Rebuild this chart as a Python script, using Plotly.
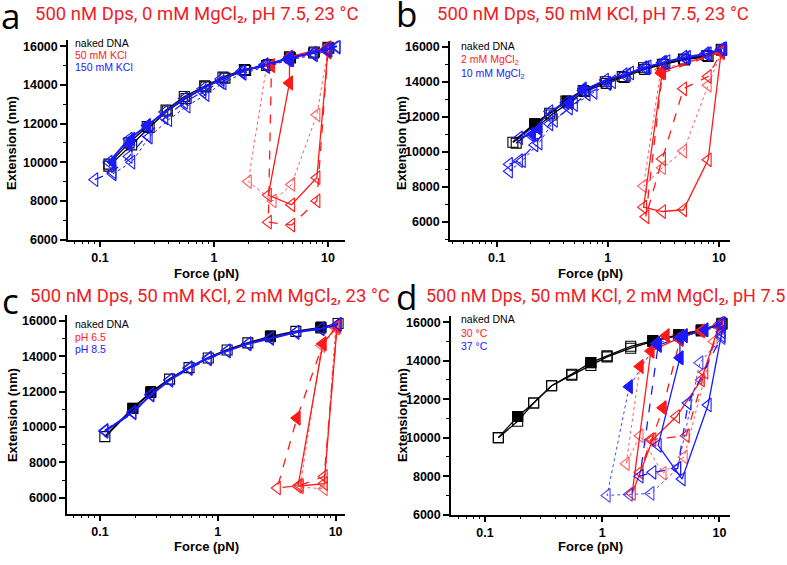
import plotly.graph_objects as go

W, H = 787, 565

# ---------------- DATA ----------------
# Panel a: 500 nM Dps, 0 mM MgCl2
A_K1_F = [0.12, 0.18, 0.26, 0.38, 0.55, 0.83, 1.2, 1.85, 2.9, 4.6, 7.5, 10.0]
A_K1_E = [9900, 11000, 11850, 12700, 13400, 13950, 14400, 14800, 15000, 15450, 15650, 15950]
A_K2_F = [0.12, 0.19, 0.27, 0.39, 0.57, 0.85, 1.25, 1.9, 3.0, 4.7, 7.6, 10.2]
A_K2_E = [9800, 10900, 11800, 12650, 13300, 13900, 14350, 14750, 15050, 15400, 15700, 15900]
A_B1_F = [0.12, 0.18, 0.26, 0.37, 0.55, 0.8, 1.15, 1.75, 2.8, 4.5, 7.4, 9.8, 12.0]
A_B1_E = [10000, 11200, 11900, 12600, 13300, 13800, 14300, 14700, 15050, 15350, 15650, 15850, 16000]
A_B2_F = [0.09, 0.13, 0.18, 0.26, 0.37, 0.55, 0.8, 1.15, 1.75, 2.8, 4.5, 7.4, 9.8, 12.0]
A_B2_E = [9100, 9500, 10300, 11400, 12300, 13100, 13650, 14150, 14650, 15000, 15300, 15600, 15800, 15950]
A_B3_F = [0.13, 0.19, 0.27, 0.4, 0.58, 0.85, 1.2, 1.8, 2.9, 4.7, 7.6, 10.2]
A_B3_E = [9400, 10000, 11300, 12200, 12900, 13500, 14100, 14600, 14950, 15300, 15550, 15800]
A_BF_F = [0.13, 0.18, 0.19, 0.26, 4.6]
A_BF_E = [10000, 10900, 11200, 11900, 15400]
A_R1_F = [10.0, 4.6, 4.6, 3.0, 4.8, 8.0, 10.0]
A_R1_E = [15950, 15450, 14100, 8300, 7800, 9200, 15750]
A_R2_F = [10.0, 4.6, 3.2, 3.0, 4.8, 8.0, 10.0]
A_R2_E = [15900, 15300, 15000, 6900, 6750, 8000, 15700]
A_R3_F = [10.0, 2.9, 2.0, 3.3, 4.8, 8.0, 10.0]
A_R3_E = [15800, 15000, 9000, 8000, 8850, 12450, 15800]
A_RF_F = [3.2, 4.6, 4.6]
A_RF_E = [15000, 14100, 15400]

# Panel b: 500 nM Dps, 50 mM KCl
B_K1_F = [0.14, 0.22, 0.3, 0.42, 0.6, 0.95, 1.35, 2.1, 3.1, 4.8, 7.8, 10.5]
B_K1_E = [10550, 11600, 12200, 12900, 13500, 14000, 14300, 14800, 15000, 15300, 15500, 15850]
B_K2_F = [0.15, 0.23, 0.31, 0.44, 0.62, 0.97, 1.4, 2.15, 3.2, 4.9, 8.0, 10.6]
B_K2_E = [10500, 11400, 12100, 12800, 13450, 13900, 14250, 14700, 15000, 15250, 15450, 15800]
B_KF_F = [0.22, 0.43]
B_KF_E = [11600, 12900]
B_B1_F = [0.16, 0.2, 0.3, 0.42, 0.6, 0.95, 1.4, 2.1, 3.1, 4.8, 7.6, 10.5]
B_B1_E = [10800, 11000, 12300, 12800, 13500, 14100, 14400, 14800, 15100, 15400, 15600, 15850]
B_B2_F = [0.13, 0.16, 0.22, 0.3, 0.45, 0.65, 1.0, 1.5, 2.2, 3.2, 5.0, 7.8, 10.8]
B_B2_E = [9300, 9500, 10400, 11600, 12500, 13300, 13900, 14400, 14800, 15100, 15350, 15550, 15900]
B_B3_F = [0.13, 0.17, 0.24, 0.33, 0.5, 0.75, 1.1, 1.6, 2.3, 3.4, 5.2, 8.0, 11.0]
B_B3_E = [8900, 9500, 10500, 11800, 12700, 13400, 14000, 14500, 14850, 15150, 15400, 15600, 15900]
B_BF_F = [0.21, 0.24, 0.45, 0.6]
B_BF_E = [11000, 11300, 12800, 13600]
B_R1_F = [10.5, 3.1, 2.1, 3.1, 4.8, 8.0, 10.5]
B_R1_E = [15750, 14600, 6850, 6600, 6700, 9550, 15750]
B_R2_F = [10.5, 3.1, 2.2, 3.1, 4.8, 8.0, 10.5]
B_R2_E = [15700, 14500, 6300, 9600, 13600, 14300, 15700]
B_R3_F = [10.5, 3.0, 2.1, 3.1, 4.8, 8.0, 10.5]
B_R3_E = [15650, 14700, 8050, 9100, 10050, 13800, 15650]
B_RF_F = [3.1, 3.0]
B_RF_E = [14600, 14500]

# Panel c: 500 nM Dps, 50 mM KCl, 2 mM MgCl2
C_K1_F = [0.11, 0.19, 0.27, 0.39, 0.57, 0.83, 1.2, 1.8, 2.8, 4.6, 7.5, 10.5]
C_K1_E = [9450, 11050, 11950, 12700, 13350, 13900, 14350, 14750, 15100, 15400, 15600, 15850]
C_KF_F = [0.19, 0.27, 2.8, 7.5]
C_KF_E = [11050, 12000, 15150, 15650]
C_B1_F = [0.11, 0.19, 0.27, 0.39, 0.57, 0.83, 1.2, 1.8, 2.8, 4.6, 7.5, 10.5]
C_B1_E = [9750, 10850, 11800, 12650, 13350, 13900, 14300, 14700, 15000, 15350, 15550, 15800]
C_B2_F = [0.11, 0.19, 0.27, 0.39, 0.57, 0.83, 1.2, 1.8, 2.8, 4.6, 7.5, 10.5]
C_B2_E = [9800, 10800, 11850, 12650, 13300, 13850, 14300, 14700, 15050, 15350, 15550, 15800]
C_R1_F = [10.3, 7.8, 4.8, 8.0, 10.3]
C_R1_E = [15700, 14700, 6650, 6800, 15700]
C_R2_F = [10.3, 7.8, 4.7, 3.2, 5.0, 8.0, 10.3]
C_R2_E = [15750, 14700, 10500, 6550, 6700, 7200, 15750]
C_R3_F = [10.3, 7.6, 5.0, 8.0, 10.0]
C_R3_E = [15600, 14600, 6600, 6500, 15600]
C_RF_F = [4.7, 7.8]
C_RF_E = [10500, 14700]

# Panel d: 500 nM Dps, 50 mM KCl, 2 mM MgCl2, pH 7.5
D_K1_F = [0.13, 0.19, 0.26, 0.37, 0.55, 0.8, 1.1, 1.75, 2.7, 4.5, 7.0, 10.5]
D_K1_E = [10000, 10850, 11800, 12700, 13250, 13750, 14200, 14650, 15000, 15300, 15550, 15900]
D_K2_F = [0.13, 0.19, 0.26, 0.37, 0.55, 0.8, 1.1, 1.75, 2.7, 4.5, 7.0, 10.5]
D_K2_E = [10000, 11100, 11800, 12700, 13300, 13900, 14250, 14750, 15050, 15350, 15600, 15950]
D_KF_F = [0.19, 0.8, 2.7, 4.5, 7.0]
D_KF_E = [11100, 13900, 15050, 15350, 15600]
D_R1_F = [10.5, 7.0, 4.6, 2.6, 1.8, 2.7, 4.3, 7.0, 10.0]
D_R1_E = [16000, 15550, 15200, 14500, 7100, 9900, 11100, 13000, 15900]
D_R2_F = [10.5, 4.6, 3.3, 2.1, 2.6, 5.2, 7.5, 10.0]
D_R2_E = [15900, 15100, 11550, 8200, 9900, 10100, 13400, 15800]
D_R3_F = [10.5, 3.5, 2.1, 1.6, 2.1, 3.3, 5.0, 9.0, 10.2]
D_R3_E = [15800, 15300, 13700, 8650, 10100, 8150, 9000, 15000, 15700]
D_RF_F = [7.0, 4.6, 2.6, 3.3, 4.6, 2.1, 3.5]
D_RF_E = [15550, 15200, 14500, 11550, 15100, 13700, 15300]
D_B1_F = [10.5, 7.5, 4.6, 4.6, 3.0, 4.8, 8.0, 10.5]
D_B1_E = [16000, 15600, 15200, 14150, 9600, 7850, 11700, 15500]
D_B2_F = [10.5, 5.0, 3.0, 2.1, 2.7, 4.4, 5.4, 10.5]
D_B2_E = [15900, 15300, 14800, 8000, 8200, 8400, 11800, 15300]
D_B3_F = [10.5, 2.9, 1.7, 1.1, 1.7, 2.6, 4.4, 6.8, 10.5]
D_B3_E = [15800, 14900, 12650, 7000, 7050, 7100, 8400, 13900, 15200]
D_BF_F = [7.5, 4.6, 4.6, 3.0, 5.0, 1.7, 2.9]
D_BF_E = [15600, 15200, 14150, 14800, 15300, 12650, 14900]

TITLES = ["500 nM Dps, 0 mM MgCl₂, pH 7.5, 23 °C",
          "500 nM Dps, 50 mM KCl, pH 7.5, 23 °C",
          "500 nM Dps, 50 mM KCl, 2 mM MgCl₂, 23 °C",
          "500 nM Dps, 50 mM KCl, 2 mM MgCl₂, pH 7.5"]
LETTERS = ["a", "b", "c", "d"]
LEGENDS = [["naked DNA", "50 mM KCl", "150 mM KCl"],
           ["naked DNA", "2 mM MgCl<sub>2</sub>", "10 mM MgCl<sub>2</sub>"],
           ["naked DNA", "pH 6.5", "pH 8.5"],
           ["naked DNA", "30 °C", "37 °C"]]
X_TICKS = [0.1, 1, 10]
Y_TICKS = [6000, 8000, 10000, 12000, 14000, 16000]

# ---------------- STYLE ----------------
BLACK = "#000000"
RED = "#ff1a1a"
BLUE = "#1a1aff"
TITLE_RED = "#ee1c25"

fig = go.Figure()


def curve(ax, F, E, color, dash="solid", sym="triangle-left-open", width=1.3, size=12, opacity=1.0):
    fig.add_trace(go.Scatter(
        x=F, y=E, mode="lines+markers", xaxis="x" + ax, yaxis="y" + ax,
        line=dict(color=color, width=width, dash=dash), opacity=opacity,
        marker=dict(symbol=sym, size=size, color=color, line=dict(width=1.1, color=color)),
        showlegend=False, hoverinfo="skip"))


def filled(ax, F, E, color, sym="triangle-left", size=12):
    fig.add_trace(go.Scatter(
        x=F, y=E, mode="markers", xaxis="x" + ax, yaxis="y" + ax,
        marker=dict(symbol=sym, size=size, color=color, line=dict(width=1, color=color)),
        showlegend=False, hoverinfo="skip"))


SQ = "square-open"
# panel a
curve("", A_K1_F, A_K1_E, BLACK, sym=SQ, size=10)
curve("", A_K2_F, A_K2_E, BLACK, sym=SQ, size=10)
curve("", A_R1_F, A_R1_E, RED)
curve("", A_R2_F, A_R2_E, RED, dash="dash")
curve("", A_R3_F, A_R3_E, RED, dash="dot", width=1, opacity=0.7)
filled("", A_RF_F, A_RF_E, RED)
curve("", A_B3_F, A_B3_E, BLUE, dash="dot", width=1)
curve("", A_B2_F, A_B2_E, BLUE, dash="dash")
curve("", A_B1_F, A_B1_E, BLUE, width=2)
filled("", A_BF_F, A_BF_E, BLUE)
# panel b
curve("2", B_K1_F, B_K1_E, BLACK, sym=SQ, size=10, width=2)
curve("2", B_K2_F, B_K2_E, BLACK, sym=SQ, size=10)
filled("2", B_KF_F, B_KF_E, BLACK, sym="square", size=10)
curve("2", B_R1_F, B_R1_E, RED)
curve("2", B_R2_F, B_R2_E, RED, dash="dash")
curve("2", B_R3_F, B_R3_E, RED, dash="dot", width=1, opacity=0.7)
filled("2", B_RF_F, B_RF_E, RED)
curve("2", B_B3_F, B_B3_E, BLUE, dash="dot", width=1)
curve("2", B_B2_F, B_B2_E, BLUE, dash="dash")
curve("2", B_B1_F, B_B1_E, BLUE, width=1.6)
filled("2", B_BF_F, B_BF_E, BLUE)
# panel c
curve("3", C_K1_F, C_K1_E, BLACK, sym=SQ, size=10, width=2)
filled("3", C_KF_F, C_KF_E, BLACK, sym="square", size=10)
curve("3", C_R1_F, C_R1_E, RED)
curve("3", C_R2_F, C_R2_E, RED, dash="dash")
curve("3", C_R3_F, C_R3_E, RED, dash="dot", width=1, opacity=0.7)
filled("3", C_RF_F, C_RF_E, RED)
curve("3", C_B2_F, C_B2_E, BLUE, dash="dash", width=2)
curve("3", C_B1_F, C_B1_E, BLUE, width=2)
# panel d
curve("4", D_K1_F, D_K1_E, BLACK, sym=SQ, size=10)
curve("4", D_K2_F, D_K2_E, BLACK, sym=SQ, size=10)
filled("4", D_KF_F, D_KF_E, BLACK, sym="square", size=10)
curve("4", D_R1_F, D_R1_E, RED)
curve("4", D_R2_F, D_R2_E, RED, dash="dash")
curve("4", D_R3_F, D_R3_E, RED, dash="dot", width=1, opacity=0.7)
curve("4", D_B1_F, D_B1_E, BLUE)
curve("4", D_B2_F, D_B2_E, BLUE, dash="dash")
curve("4", D_B3_F, D_B3_E, BLUE, dash="dot", width=1, opacity=0.8)
filled("4", D_RF_F, D_RF_E, RED)
filled("4", D_BF_F, D_BF_E, BLUE)

# ---------------- LAYOUT ----------------
minor_x = [v * m for m in (0.01, 0.1, 1, 10) for v in range(2, 10)]
minor_x = [v for v in minor_x if 0.03 < v < 15]


def xax(domain, rng, anchor):
    return dict(type="log", domain=domain, range=rng, anchor=anchor,
                tickvals=X_TICKS, ticktext=["<b>0.1</b>", "<b>1</b>", "<b>10</b>"],
                ticks="outside", ticklen=6, tickwidth=1.5, tickcolor="black",
                showline=True, linecolor="black", linewidth=1.5, showgrid=False, zeroline=False,
                minor=dict(tickvals=minor_x, ticks="outside", ticklen=3, tickwidth=1, tickcolor="black"),
                tickfont=dict(family="Liberation Sans, Arial", size=12.5, color="black"))


def yax(domain, rng, anchor):
    return dict(domain=domain, range=rng, anchor=anchor,
                tickvals=Y_TICKS, ticktext=["<b>%d</b>" % v for v in Y_TICKS],
                ticks="outside", ticklen=6, tickwidth=1.5, tickcolor="black",
                showline=True, linecolor="black", linewidth=1.5, showgrid=False, zeroline=False,
                minor=dict(dtick=1000, ticks="outside", ticklen=3, tickwidth=1, tickcolor="black"),
                tickfont=dict(family="Liberation Sans, Arial", size=12.5, color="black"))


def px_x(p):
    return p / W


def px_y(p):
    return 1 - p / H


fig.update_layout(
    width=W, height=H, margin=dict(l=0, r=0, t=0, b=0),
    paper_bgcolor="white", plot_bgcolor="white",
    xaxis=xax([px_x(68), px_x(345)], [-1.28, 1.15], "y"),
    yaxis=yax([px_y(242), px_y(40)], [6000, 16300], "x"),
    xaxis2=xax([px_x(450), px_x(730)], [-1.42, 1.10], "y2"),
    yaxis2=yax([px_y(242), px_y(41)], [5000, 16300], "x2"),
    xaxis3=xax([px_x(67), px_x(345)], [-1.28, 1.08], "y3"),
    yaxis3=yax([px_y(520), px_y(319)], [5100, 16300], "x3"),
    xaxis4=xax([px_x(451), px_x(730)], [-1.29, 1.09], "y4"),
    yaxis4=yax([px_y(521), px_y(320)], [6000, 16300], "x4"),
)

ann = []
# panel titles and letters
title_pos = [(197, 13), (593, 13), (210, 299), (605, 299)]
title_size = [18.5, 18.5, 18.5, 18]
letter_pos = [(-1, 15), (394, 13), (0, 304), (394, 300)]
for t, (cx, cy), fs, l, (lx, ly) in zip(TITLES, title_pos, title_size, LETTERS, letter_pos):
    ann.append(dict(text=t, x=px_x(cx), y=px_y(cy), xref="paper", yref="paper",
                    showarrow=False, font=dict(family="Roboto", size=fs, color=TITLE_RED),
                    xanchor="center", yanchor="middle"))
    ann.append(dict(text=l, x=px_x(lx), y=px_y(ly), xref="paper", yref="paper",
                    showarrow=False, font=dict(family="Open Sans", size=35, color="black"),
                    xanchor="left", yanchor="middle"))

# axis titles
ytitle_pos = [(12, 144), (402, 144), (12, 420), (402, 420)]
xtitle_pos = [(206, 276), (590, 276), (206, 553), (590, 553)]
for (x, y) in ytitle_pos:
    ann.append(dict(text="<b>Extension (nm)</b>", x=px_x(x), y=px_y(y), xref="paper", yref="paper",
                    showarrow=False, textangle=-90,
                    font=dict(family="Liberation Sans, Arial", size=13, color="black"),
                    xanchor="center", yanchor="middle"))
for (x, y) in xtitle_pos:
    ann.append(dict(text="<b>Force (pN)</b>", x=px_x(x), y=px_y(y), xref="paper", yref="paper",
                    showarrow=False,
                    font=dict(family="Liberation Sans, Arial", size=13, color="black"),
                    xanchor="center", yanchor="middle"))

# legends (text only)
leg_pos = [(73, [43, 55, 67]), (459, [46, 60, 74]), (73, [328, 341, 353]), (459, [323, 337, 350])]
for labels, (lx, ys) in zip(LEGENDS, leg_pos):
    for lab, yy, col in zip(labels, ys, [BLACK, RED, BLUE]):
        ann.append(dict(text=lab, x=px_x(lx), y=px_y(yy), xref="paper", yref="paper",
                        showarrow=False, font=dict(family="Liberation Sans, Arial", size=10.5, color=col),
                        xanchor="left", yanchor="middle"))

fig.update_layout(annotations=ann)
fig.write_html("out.html", config={"displayModeBar": False},
               post_script="document.body.style.margin='0px';document.body.style.overflow='hidden';")
